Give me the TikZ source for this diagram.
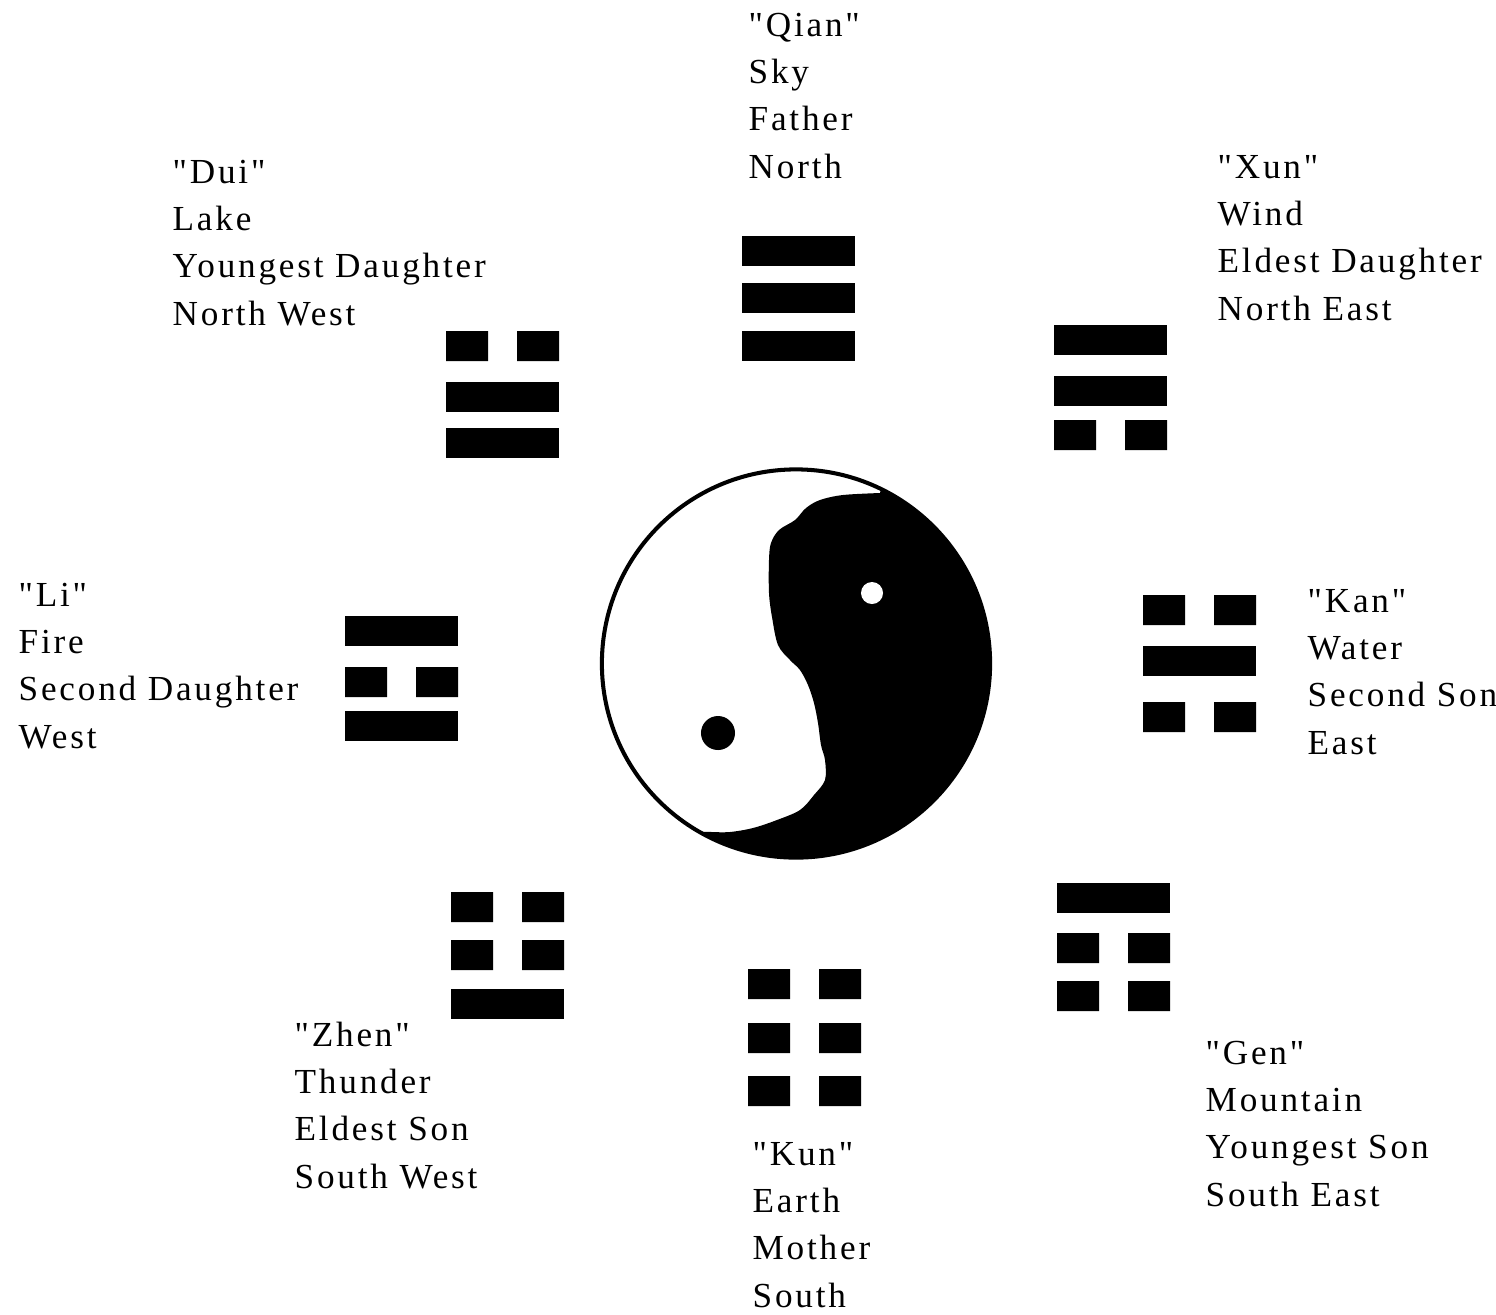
\documentclass[tikz,border=0pt]{standalone}
\usepackage{fontspec}
\usepackage{xcolor}
\usepackage{tikz}
\newfontfamily\baguafont{Liberation Serif}[LetterSpace=8, Ligatures=TeXOff]
\definecolor{ink}{HTML}{000000}

% one yao line, top left corner given in pixels
\newcommand{\yangbar}[2]{\fill[ink] (#1,-#2) rectangle ++(113,-30);}
\newcommand{\yinbar}[2]{\fill[ink] (#1,-#2) rectangle ++(42,-30) (#1+71,-#2) rectangle ++(42,-30);}

\begin{document}
\begin{tikzpicture}[x=0.01cm, y=0.01cm,
    every node/.style={font=\baguafont\fontsize{10}{13.45}\selectfont},
    trilabel/.style={anchor=base west, align=left, inner sep=0pt},
    taijiring/.style={circle, draw=ink, line width=1.15pt, inner sep=0pt,
        minimum size=3.88cm},
    eyedot/.style={circle, inner sep=0pt},
]
\useasboundingbox (0,0) rectangle (1496,-1314);

% ── Taiji ──────────────────────────────────────────────────────────────
\coordinate (taiji) at (796,-663.5);
\fill[ink] plot[smooth, tension=0.55] coordinates {
    (880,-493) (843,-495) (820,-500) (806,-508) (795,-520) (779,-530)
    (771,-543) (769,-560) (769,-593) (772,-617) (778,-645) (790,-660)
    (800,-670) (808,-685) (814,-703) (818,-723) (821,-745) (825,-760)
    (825,-780) (814,-795) (800,-810) (777,-820) (753,-828) (730,-832)
    (712,-832)}
    -- ([shift={(-120:1.94cm)}]taiji)
    arc[start angle=-120, end angle=64, radius=1.94cm] -- cycle;
\node[taijiring] (ring) at (taiji) {};
\node[eyedot, fill=ink, minimum size=0.34cm] (yineye) at (718,-733) {};
\node[eyedot, fill=white, minimum size=0.22cm] (yangeye) at (872,-593) {};

% ── Trigrams ───────────────────────────────────────────────────────────
% Qian
\yangbar{742}{236} \yangbar{742}{283} \yangbar{742}{331}
% Dui
\yinbar{446}{331} \yangbar{446}{382} \yangbar{446}{428}
% Xun
\yangbar{1054}{325} \yangbar{1054}{376} \yinbar{1054}{420}
% Li
\yangbar{345}{616} \yinbar{345}{667} \yangbar{345}{711}
% Kan
\yinbar{1143}{595} \yangbar{1143}{646} \yinbar{1143}{702}
% Zhen
\yinbar{451}{892} \yinbar{451}{940} \yangbar{451}{989}
% Kun
\yinbar{748}{969} \yinbar{748}{1023} \yinbar{748}{1076}
% Gen
\yangbar{1057}{883} \yinbar{1057}{933} \yinbar{1057}{981}

% ── Labels (anchored at the baseline of the last line) ─────────────────
\node[trilabel] (qian) at (748,-178)  {"Qian"\\Sky\\Father\\North};
\node[trilabel] (dui)  at (172,-325)  {"Dui"\\Lake\\Youngest Daughter\\North West};
\node[trilabel] (xun)  at (1217,-320) {"Xun"\\Wind\\Eldest Daughter\\North East};
\node[trilabel] (li)   at (18,-748)   {"Li"\\Fire\\Second Daughter\\West};
\node[trilabel] (kan)  at (1307,-754) {"Kan"\\Water\\Second Son\\East};
\node[trilabel] (zhen) at (294,-1188) {"Zhen"\\Thunder\\Eldest Son\\South West};
\node[trilabel] (kun)  at (752,-1307) {"Kun"\\Earth\\Mother\\South};
\node[trilabel] (gen)  at (1205,-1206) {"Gen"\\Mountain\\Youngest Son\\South East};

\end{tikzpicture}
\end{document}
